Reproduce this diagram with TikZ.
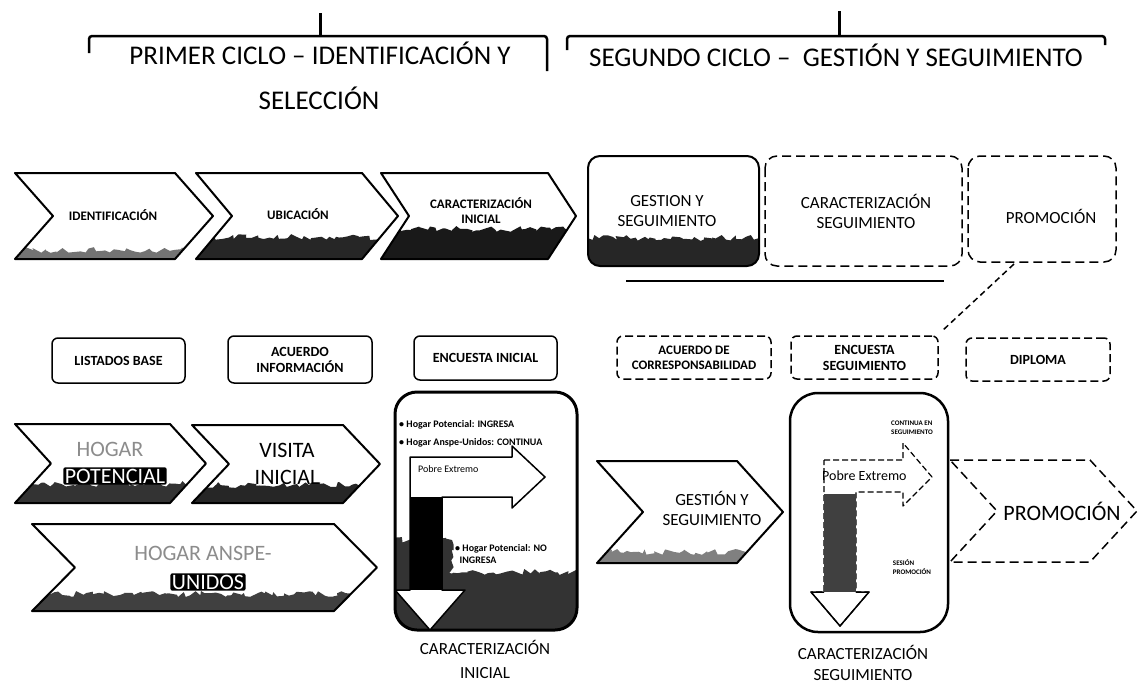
\documentclass[tikz,border=0pt]{standalone}
\usepackage{fontspec}
\setmainfont{Carlito}
\usetikzlibrary{decorations.pathmorphing}
\tikzset{
  chevline/.style={draw=black, line width=2pt, line join=round},
  chevdash/.style={draw=black, line width=1.5pt, line join=round, dash pattern=on 9pt off 5pt},
  grass/.style={fill=black!85, decorate, decoration={random steps, segment length=4pt, amplitude=3pt}},
  brk/.style={line width=2.5pt, line join=round, rounded corners=3pt},
  hdr/.style={font=\fontsize{27}{32}\selectfont, align=center, inner sep=0pt},
  chevtxt/.style={font=\bfseries\fontsize{13}{15}\selectfont, align=center, inner sep=0pt},
  toptxt/.style={font=\fontsize{17}{20}\selectfont, align=center, inner sep=0pt},
  bigtxt/.style={font=\fontsize{22}{26}\selectfont, align=center, inner sep=0pt},
  captxt/.style={font=\fontsize{17}{21}\selectfont, align=center, inner sep=0pt},
  smalltxt/.style={font=\bfseries\fontsize{10}{12}\selectfont, align=left, inner sep=0pt},
  tinytxt/.style={font=\bfseries\fontsize{7}{9}\selectfont, align=left, inner sep=0pt},
  mbox/.style={draw=black, line width=1.5pt, rounded corners=6pt, align=center, inner sep=0pt, font=\bfseries\fontsize{14}{16}\selectfont},
  mboxd/.style={mbox, dash pattern=on 8pt off 4pt},
  inv/.style={fill=black, text=white, inner sep=1.5pt, rounded corners=2pt}
}
% #1 style, #2 x1, #3 x2, #4 ytop, #5 ybot, #6 depth
\newcommand\chevshape[6]{%
  \draw[#1] (#2,#4) -- (#3,#4) -- ({#3+#6},{(#4+#5)/2}) -- (#3,#5) -- (#2,#5) -- ({#2+#6},{(#4+#5)/2}) -- cycle;}
% #1 x1, #2 x2, #3 ytop, #4 ybot, #5 depth, #6 ygrass, #7 colour
\newcommand\chevgrass[7]{%
  \begin{scope}
    \clip (#1,#3) -- (#2,#3) -- ({#2+#5},{(#3+#4)/2}) -- (#2,#4) -- (#1,#4) -- ({#1+#5},{(#3+#4)/2}) -- cycle;
    \fill[grass,#7] ({#1-6},#6) rectangle ({#2+#5+6},{#4+6});
  \end{scope}}
\begin{document}
\begin{tikzpicture}[x=1pt,y=-1pt]
\useasboundingbox (0,0) rectangle (1139,688);
\pgfmathsetseed{7}

% ---------- headers ----------
\draw[brk] (89,53) -- (89,36) -- (547,36) -- (547,71);
\draw[line width=3pt] (320,36) -- (320,13);
\node[hdr] (h1a) at (320,53) {PRIMER CICLO – IDENTIFICACIÓN Y};
\node[hdr] (h1b) at (319,98) {SELECCIÓN};

\draw[brk] (567,50) -- (567,36) -- (1105,36) -- (1105,45);
\draw[line width=3pt] (839,36) -- (839,11);
\node[hdr] (h2) at (836,55) {SEGUNDO CICLO –\ \ GESTIÓN Y SEGUIMIENTO};

% ---------- top chevrons ----------
\chevgrass{15}{175}{173}{259}{38}{250}{black!55}
\chevshape{chevline}{15}{175}{173}{259}{38}
\node[chevtxt] (c1) at (113,215) {IDENTIFICACIÓN};

\chevgrass{196}{362}{173}{259}{36}{237}{black!85}
\chevshape{chevline}{196}{362}{173}{259}{36}
\node[chevtxt] (c2) at (298,214) {UBICACIÓN};

\chevgrass{381}{548}{173}{259}{28}{229}{black!90}
\chevshape{chevline}{381}{548}{173}{259}{28}
\node[chevtxt] (c3) at (481,211) {CARACTERIZACIÓN\\INICIAL};

% ---------- top right group ----------
\begin{scope}
  \clip[rounded corners=12pt] (588,156) rectangle (759,266);
  \fill[grass] (580,238) rectangle (770,275);
\end{scope}
\draw[line width=2pt, rounded corners=12pt] (588,156) rectangle (759,266);
\draw[chevdash, rounded corners=12pt] (765,156) rectangle (962,266);
\draw[chevdash, rounded corners=12pt] (968,156) rectangle (1116,262);
\node[toptxt] (t1) at (667,211) {GESTION Y\\SEGUIMIENTO};
\node[toptxt] (t2) at (866,211) {CARACTERIZACIÓN\\SEGUIMIENTO};
\node[toptxt] (t3) at (1051,216) {PROMOCIÓN};
\coordinate (u1) at (626,281);
\coordinate (u2) at (944,281);
\draw[line width=2pt] (u1) -- (u2);
\coordinate (dA) at (1014,264);
\coordinate (dB) at (942,331);
\draw[line width=1.5pt, dash pattern=on 6pt off 4pt] (dA) -- (dB);

% ---------- middle row boxes ----------
\node[mbox, minimum width=133, minimum height=45] (b1) at (118.5,360.5) {LISTADOS BASE};
\node[mbox, minimum width=144, minimum height=47] (b2) at (300,359.5) {ACUERDO\\INFORMACIÓN};
\node[mbox, minimum width=143, minimum height=44] (b3) at (485.5,358) {ENCUESTA INICIAL};
\node[mboxd, minimum width=154, minimum height=43, font=\bfseries\fontsize{13}{15}\selectfont] (b4) at (694,357.5) {ACUERDO DE\\CORRESPONSABILIDAD};
\node[mboxd, minimum width=147, minimum height=43] (b5) at (864.5,357.5) {ENCUESTA\\SEGUIMIENTO};
\node[mboxd, minimum width=144, minimum height=43] (b6) at (1038,359.5) {DIPLOMA};

% ---------- lower left chevrons ----------
\chevgrass{15}{170}{424}{503}{36}{484}{black!80}
\chevshape{chevline}{15}{170}{424}{503}{36}
\node[bigtxt, text=black!45] (p1) at (110,449) {HOGAR};
\node[bigtxt, inv] (p2) at (115,476) {POTENCIAL};

\chevgrass{192}{343}{425}{503}{37}{485}{black!85}
\chevshape{chevline}{192}{343}{425}{503}{37}
\node[bigtxt] (v1) at (287,450) {VISITA};
\node[bigtxt] (v2) at (287,477) {INICIAL};

\chevgrass{32}{334}{524}{611}{43}{594}{black!75}
\chevshape{chevline}{32}{334}{524}{611}{43}
\node[bigtxt, text=black!45] (a1) at (203,553) {HOGAR ANSPE-};
\node[bigtxt, inv] (a2) at (208,582) {UNIDOS};

% ---------- middle decision box ----------
\begin{scope}
  \clip[rounded corners=22pt] (395,392) rectangle (577,630);
  \fill[grass, black!80] (385,572) rectangle (590,640);
  \fill[grass, black!80] (385,540) rectangle (452,640);
\end{scope}
\draw[line width=3pt, rounded corners=22pt] (395,392) rectangle (577,630);
\node[smalltxt, anchor=west] (m1) at (399,425) {• Hogar Potencial: INGRESA};
\node[smalltxt, anchor=west] (m2) at (399,443) {• Hogar Anspe-Unidos: CONTINUA};
\draw[line width=1.5pt, fill=white, line join=round]
  (410,457) -- (512,457) -- (512,446) -- (545,477) -- (512,508) -- (512,497) -- (442,497)
  -- (442,590) -- (465,590) -- (430,630) -- (395,590) -- (410,590) -- cycle;
\fill (410,497) rectangle (442,590);
\node[smalltxt, font=\fontsize{10}{12}\selectfont, anchor=west] (pe1) at (418,469) {Pobre Extremo};
\node[smalltxt, anchor=north west] (m3) at (455,544) {• Hogar Potencial: NO\\\ \ INGRESA};
\node[captxt, font=\fontsize{17}{24}\selectfont] (cap1) at (485,659) {CARACTERIZACIÓN\\INICIAL};

% ---------- lower right ----------
\chevgrass{597}{737}{461}{563}{46}{552}{black!50}
\chevshape{chevline}{597}{737}{461}{563}{46}
\node[toptxt] (g1) at (712,508) {GESTIÓN Y\\SEGUIMIENTO};

\chevshape{chevdash}{950}{1090}{460}{562}{47}
\node[bigtxt] (pr) at (1062,511) {PROMOCIÓN};

\fill[white, rounded corners=28pt] (790,393) rectangle (948,632);
\draw[line width=2.5pt, rounded corners=28pt] (790,393) rectangle (948,632);
\draw[line width=1.2pt, dash pattern=on 6pt off 3pt, fill=white, line join=round]
  (824,460) -- (903,460) -- (903,443) -- (932,477) -- (903,506) -- (903,492) -- (856,492)
  -- (856,592) -- (869,592) -- (840,626) -- (811,592) -- (824,592) -- cycle;
\fill[black!75] (824,494) rectangle (856,592);
\draw[line width=1.5pt, line join=round] (856,592) -- (869,592) -- (840,626) -- (811,592) -- (824,592);
\node[smalltxt, font=\fontsize{14}{16}\selectfont, anchor=west] (pe2) at (822,476) {Pobre Extremo};
\node[tinytxt] (r1) at (912,428) {CONTINUA EN\\SEGUIMIENTO};
\node[tinytxt] (r2) at (912,567) {SESIÓN\\PROMOCIÓN};
\node[captxt] (cap2) at (863,663) {CARACTERIZACIÓN\\SEGUIMIENTO};
\end{tikzpicture}
\end{document}
